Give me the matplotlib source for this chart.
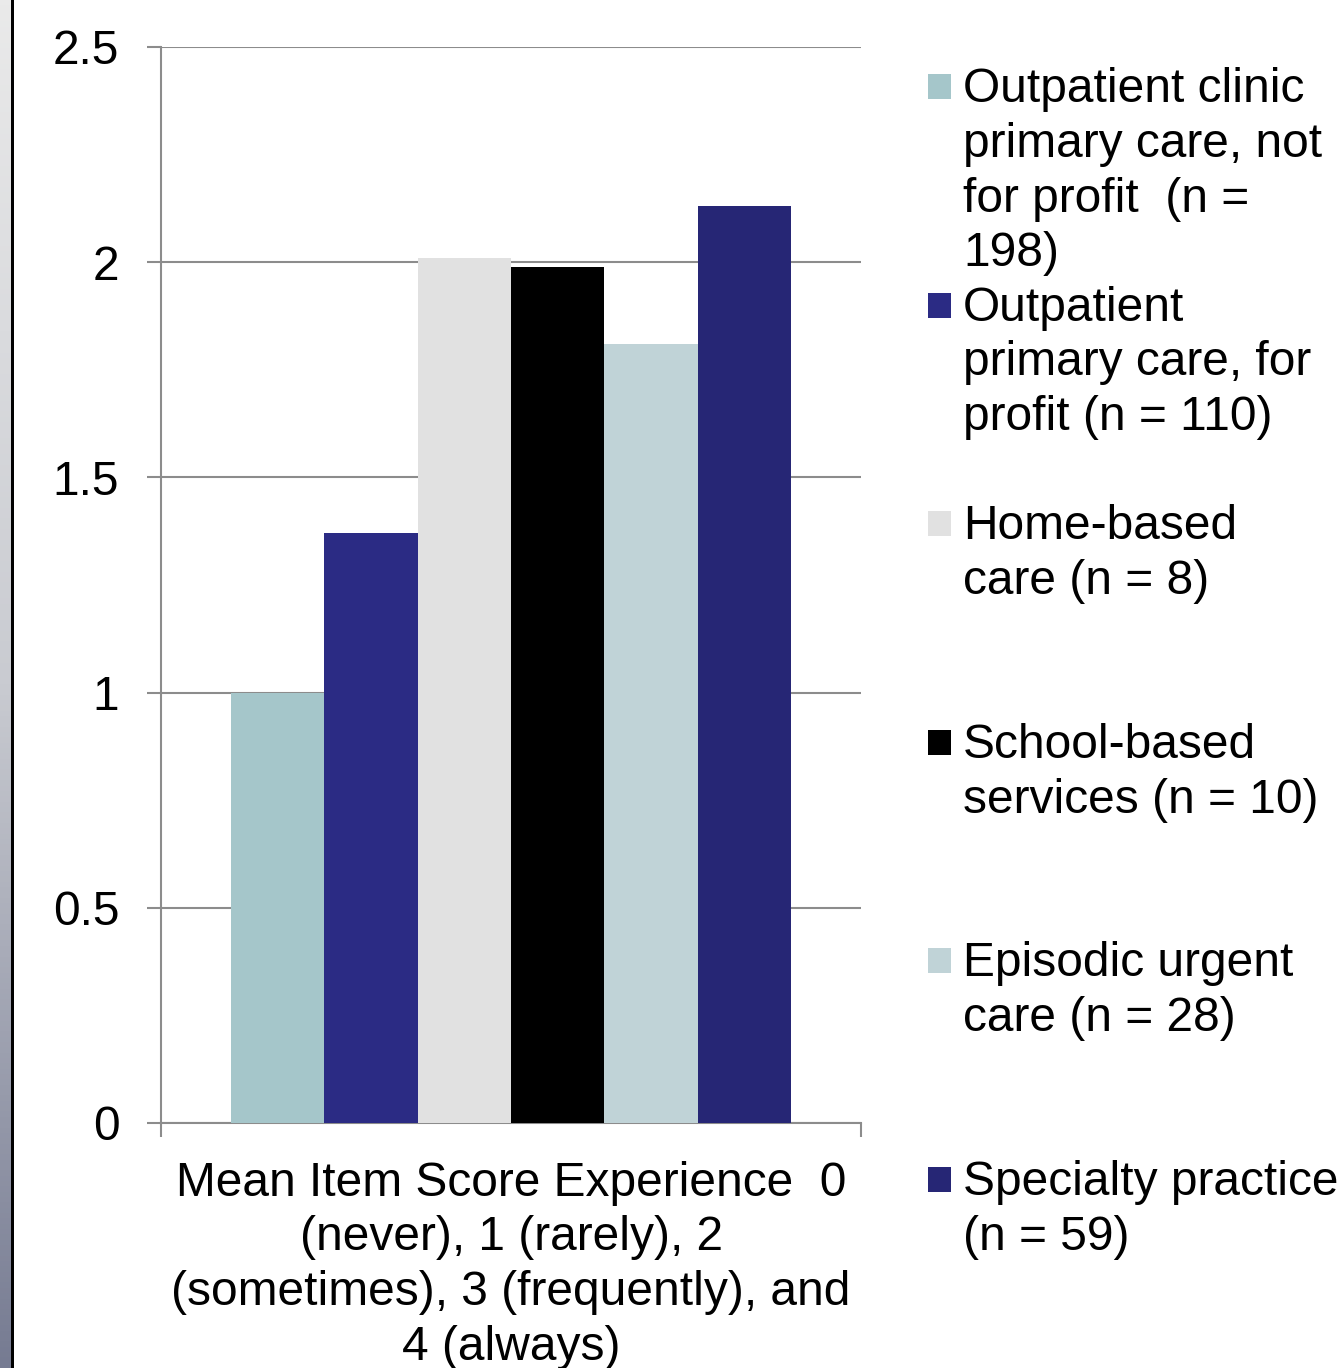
import matplotlib
matplotlib.use("Agg")
from matplotlib import pyplot as plt
from matplotlib.patches import Rectangle
from matplotlib.colors import LinearSegmentedColormap
import numpy as np

plt.rcParams['font.family'] = ['Liberation Sans', 'DejaVu Sans']

# data
categories = ["Mean Item Score Experience  0\n(never), 1 (rarely), 2\n(sometimes), 3 (frequently), and\n4 (always)"]
series_labels = [
    "Outpatient clinic\nprimary care, not\nfor profit  (n =\n198)",
    "Outpatient\nprimary care, for\nprofit (n = 110)",
    "Home-based\ncare (n = 8)",
    "School-based\nservices (n = 10)",
    "Episodic urgent\ncare (n = 28)",
    "Specialty practice\n(n = 59)",
]
values = [1.00, 1.37, 2.01, 1.99, 1.81, 2.13]
colors = ['#A5C6CA', '#2B2B84', '#E1E1E1', '#000000', '#C0D3D7', '#262675']
y_ticks = [0, 0.5, 1, 1.5, 2, 2.5]
y_ticklabels = ['0', '0.5', '1', '1.5', '2', '2.5']

W, H = 1344, 1368
fig = plt.figure(figsize=(W / 100, H / 100), dpi=100)
FS = 34.5
LS = 1.28

# left gradient strip
strip = fig.add_axes([0, 0, 11 / W, 1])
cmap = LinearSegmentedColormap.from_list('strip', ['#EAEAEA', '#C9CBD1', '#767B92'])
strip.imshow(np.linspace(0, 1, 256).reshape(-1, 1), aspect='auto', cmap=cmap)
strip.axis('off')
fig.add_artist(Rectangle((11 / W, 0), 2.5 / W, 1, transform=fig.transFigure,
                         color='black', lw=0))

ax = fig.add_axes([161 / W, (H - 1123) / H, 700 / W, 1076 / H])
n = len(values)
group_w = 0.8
bw = group_w / n
xs = -group_w / 2 + bw * (np.arange(n) + 0.5)
ax.bar(xs, values, width=bw, color=colors, zorder=3, linewidth=0)

ax.set_xlim(-0.5, 0.5)
ax.set_ylim(0, 2.5)
ax.set_yticks(y_ticks)
ax.set_yticklabels(y_ticklabels, fontsize=FS)
ax.yaxis.grid(True, color='#8C8C8C', lw=1.5, zorder=0)
ax.set_xticks([0])
ax.set_xticklabels(categories, fontsize=FS, linespacing=LS)
ax.set_xticks([-0.5, 0.5], minor=True)
ax.tick_params(axis='x', which='major', length=0, pad=27)
ax.tick_params(axis='x', which='minor', length=10, width=1.5, color='#8C8C8C')
ax.tick_params(axis='y', length=10, width=1.5, color='#8C8C8C', pad=20)
for s in ['top', 'right']:
    ax.spines[s].set_visible(False)
for s in ['left', 'bottom']:
    ax.spines[s].set_color('#8C8C8C')
    ax.spines[s].set_linewidth(1.5)

# legend entries, evenly spaced
top_y = 87
step = 218.6
for i, (lab, c) in enumerate(zip(series_labels, colors)):
    yc = top_y + i * step
    fig.add_artist(Rectangle((928 / W, 1 - (yc + 12) / H), 23 / W, 25 / H,
                             transform=fig.transFigure, color=c, lw=0))
    fig.text(963 / W, 1 - (yc - 20) / H, lab, fontsize=FS, va='top', ha='left',
             linespacing=LS)

fig.savefig('out.png', dpi=100)
